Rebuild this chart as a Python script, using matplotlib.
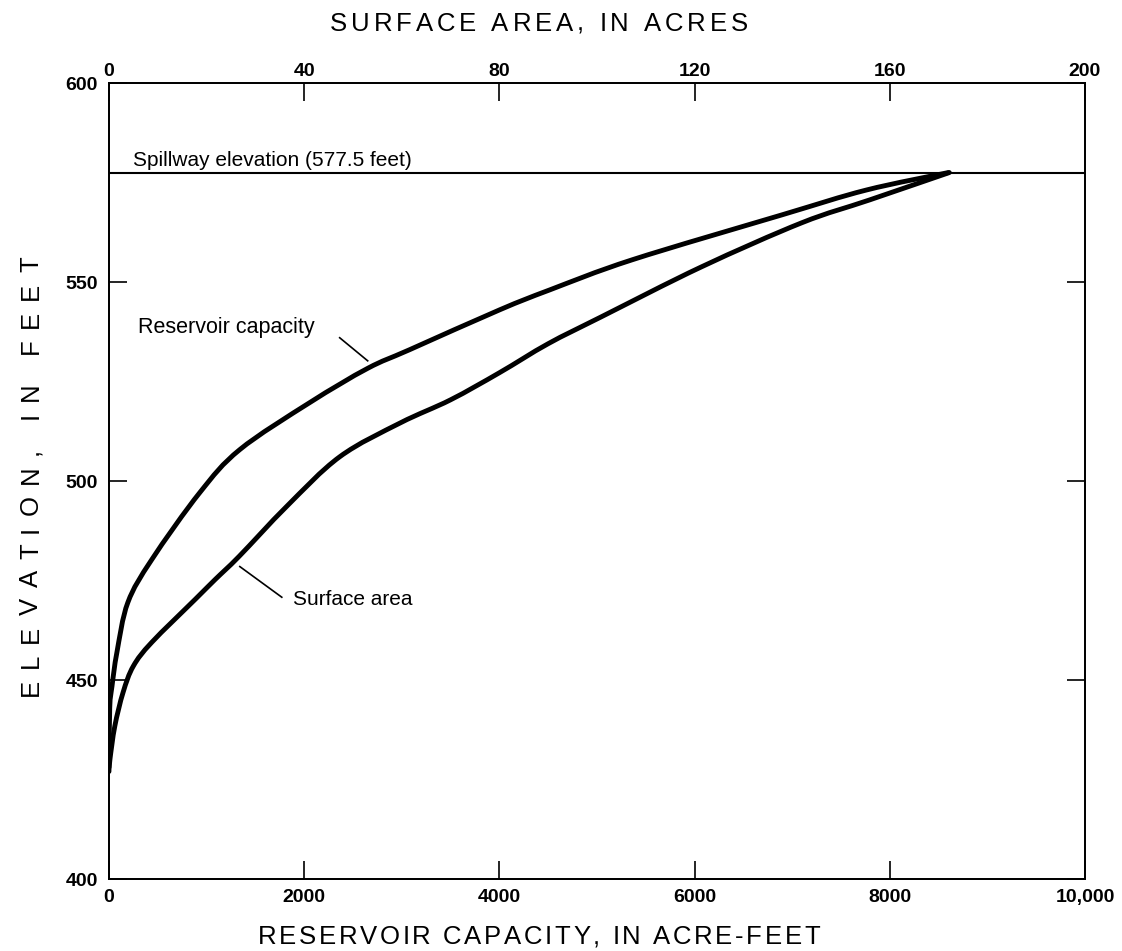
import matplotlib
matplotlib.use("Agg")
import matplotlib.pyplot as plt
from matplotlib.ticker import FixedLocator
from matplotlib.path import Path
from matplotlib.patches import PathPatch
from matplotlib.font_manager import FontProperties
from matplotlib.transforms import IdentityTransform

plt.rcParams['font.family'] = ['Liberation Sans', 'DejaVu Sans']

# Reservoir capacity (acre-feet) vs elevation (feet)
capacity_af = [0, 8, 31, 82, 194, 440, 931, 1341, 2057, 2650, 3081, 4002, 4514,
               5363, 6899, 7758, 8600]
capacity_elev = [428, 443, 448.4, 457, 469.5, 480.3, 497.1, 507.9, 519.7, 528.3,
                 533, 543, 548, 555.6, 566.9, 573.1, 577.5]

# Surface area (acres) vs elevation (feet)
area_acres = [0, 0.2, 1.2, 2.9, 5.0, 8.8, 17.7, 21.8, 26.7, 36.4, 47.3, 59.7,
              70, 80, 90, 100.8, 121.4, 142, 155.8, 172.2]
area_elev = [427, 430, 438.4, 446.9, 453.5, 459.5, 470.3, 475.3, 481.1, 493.6,
             506.1, 514.6, 520.4, 527.2, 534.5, 541.2, 553.8, 564.9, 570.6,
             577.5]

spillway_elev = 577.5

elev_ticks = [400, 450, 500, 550, 600]
elev_labels = ["400", "450", "500", "550", "600"]
cap_ticks = [0, 2000, 4000, 6000, 8000, 10000]
cap_labels = ["0", "2000", "4000", "6000", "8000", "10,000"]
area_ticks = [0, 40, 80, 120, 160, 200]
area_labels = ["0", "40", "80", "120", "160", "200"]


def smooth_path(xs, ys):
    """Catmull-Rom curve through the points, as cubic Bezier segments."""
    pts = list(zip(xs, ys))
    n = len(pts)
    verts = [pts[0]]
    codes = [Path.MOVETO]
    for i in range(n - 1):
        p0 = pts[i - 1] if i > 0 else pts[i]
        p1 = pts[i]
        p2 = pts[i + 1]
        p3 = pts[i + 2] if i + 2 < n else pts[i + 1]
        c1 = (p1[0] + (p2[0] - p0[0]) / 6, p1[1] + (p2[1] - p0[1]) / 6)
        c2 = (p2[0] - (p3[0] - p1[0]) / 6, p2[1] - (p3[1] - p1[1]) / 6)
        verts += [c1, c2, p2]
        codes += [Path.CURVE4] * 3
    return Path(verts, codes)


def spaced_text(fig, renderer, s, center, base, span, size, vertical=False):
    """Draw s letter by letter, spread evenly over `span` pixels."""
    prop = FontProperties(family=['Liberation Sans'], size=size)
    widths = [renderer.get_text_width_height_descent(c, prop, ismath=False)[0]
              for c in s]
    natural = sum(widths)
    track = (span - natural) / (len(s) - 1)
    pos = center - span / 2
    for c, w in zip(s, widths):
        if vertical:
            fig.text(base, pos, c, fontproperties=prop, rotation=90,
                     rotation_mode="anchor", ha="left", va="baseline",
                     transform=IdentityTransform())
        else:
            fig.text(pos, base, c, fontproperties=prop, ha="left",
                     va="baseline", transform=IdentityTransform())
        pos += w + track


fig = plt.figure(figsize=(11.22, 9.51), dpi=100)
ax = fig.add_axes([0.0971, 0.0757, 0.8699, 0.837])
ax.set_xlim(0, 10000)
ax.set_ylim(400, 600)

for s in ax.spines.values():
    s.set_linewidth(1.3)

ax.add_patch(PathPatch(smooth_path(capacity_af, capacity_elev), fill=False,
                       edgecolor="black", lw=3.5, capstyle="round",
                       joinstyle="round"))
ax.axhline(spillway_elev, color="black", lw=1.5)

ax.xaxis.set_major_locator(FixedLocator(cap_ticks))
ax.set_xticklabels(cap_labels)
ax.yaxis.set_major_locator(FixedLocator(elev_ticks))
ax.set_yticklabels(elev_labels)
ax.tick_params(axis="both", direction="in", length=13, width=1.2,
               labelsize=14, right=True)
ax.tick_params(axis="x", pad=7)
ax.tick_params(axis="y", pad=8)
for lab in ax.get_xticklabels() + ax.get_yticklabels():
    lab.set_fontweight("bold")

ax2 = ax.twiny()
ax2.set_xlim(0, 200)
ax2.add_patch(PathPatch(smooth_path(area_acres, area_elev), fill=False,
                        edgecolor="black", lw=3.5, capstyle="round",
                        joinstyle="round"))
ax2.xaxis.set_major_locator(FixedLocator(area_ticks))
ax2.set_xticklabels(area_labels)
ax2.tick_params(axis="x", direction="in", length=13, width=1.2,
                labelsize=14, pad=2)
for lab in ax2.get_xticklabels():
    lab.set_fontweight("bold")
for s in ax2.spines.values():
    s.set_linewidth(1.3)

# Axis titles with wide letter spacing
renderer = fig.canvas.get_renderer()
spaced_text(fig, renderer, "RESERVOIR CAPACITY, IN ACRE-FEET",
            center=539, base=7, span=562, size=18.5)
spaced_text(fig, renderer, "SURFACE AREA, IN ACRES",
            center=539, base=920, span=418, size=18.5)
spaced_text(fig, renderer, "ELEVATION, IN FEET",
            center=475, base=38, span=440, size=18.5, vertical=True)

# Annotations
ax.text(246, 579.1, "Spillway elevation (577.5 feet)", fontsize=15,
        va="baseline", ha="left")
ax.text(297, 537.2, "Reservoir capacity", fontsize=15.5, va="baseline",
        ha="left")
ax.plot([2364, 2651], [536.0, 530.2], color="black", lw=1.2)
ax.text(1885, 468.8, "Surface area", fontsize=15, va="baseline", ha="left")
ax.plot([1341, 1771], [478.5, 470.8], color="black", lw=1.2)

fig.savefig("out.png", dpi=100)
